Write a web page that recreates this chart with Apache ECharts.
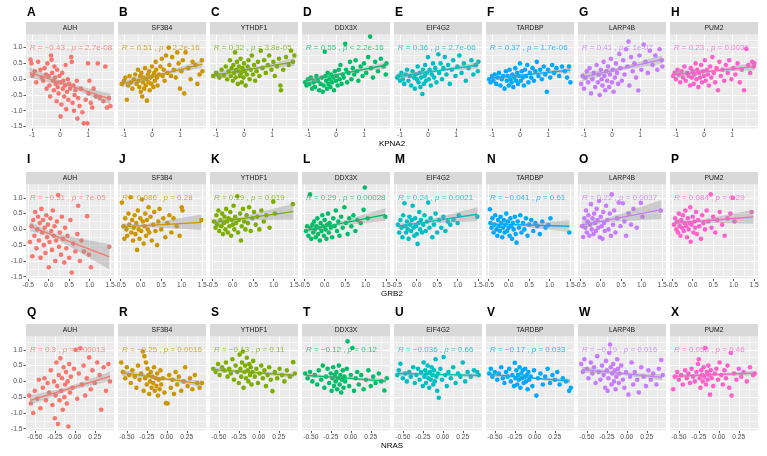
<!DOCTYPE html>
<html>
<head>
<meta charset="utf-8">
<script src="https://cdn.jsdelivr.net/npm/echarts@6/dist/echarts.min.js"></script>
<style>
html,body{margin:0;padding:0;background:#fff;}
#main{width:767px;height:456px;}
</style>
</head>
<body>
<div id="main"></div>
<script>
// ---------- labels ----------
const colGenes = ['AUH','SF3B4','YTHDF1','DDX3X','EIF4G2','TARDBP','LARP4B','PUM2'];
const rowGenes = ['KPNA2','GRB2','NRAS'];
const panelLetters = ['A','B','C','D','E','F','G','H','I','J','K','L','M','N','O','P','Q','R','S','T','U','V','W','X'];
const colColors = ['#F8766D','#CD9600','#7CAE00','#00BE67','#00BFC4','#00A9FF','#C77CFF','#FF61CC'];

// ---------- axes ----------
const xMin = [-1.214, -0.556, -0.61];
const xMax = [1.929, 1.595, 0.49];
const yMin = -1.56, yMax = 1.42;
const xMajor = [[-1,0,1],[-0.5,0,0.5,1,1.5],[-0.5,-0.25,0,0.25]];
const xMinor = [[-0.5,0.5,1.5],[-0.25,0.25,0.75,1.25],[-0.375,-0.125,0.125,0.375]];
const xDecimals = [0,1,2];
const yMajor = [-1.5,-1,-0.5,0,0.5,1];
const yMinor = [-1.25,-0.75,-0.25,0.25,0.75,1.25];

// ---------- correlation labels ----------
const rText = ['−0.43','0.51','0.32','0.55','0.36','0.37','0.41','0.23',
               '−0.31','0.086','0.19','0.29','0.24','−0.041','0.22','0.084',
               '0.3','−0.25','−0.13','−0.12','−0.036','−0.17','−0.19','0.058'];
const pOp = ['=','<','=','<','=','=','=','=',
             '=','=','=','=','=','=','=','=',
             '=','=','=','=','=','=','=','='];
const pText = ['2.7e-08','2.2e-16','3.8e-05','2.2e-16','2.7e-06','1.7e-06','1e-07','0.0031',
               '7e-05','0.28','0.019','0.00028','0.0021','0.61','0.0037','0.29',
               '0.00013','0.0016','0.11','0.12','0.66','0.033','0.016','0.46'];
const LABEL_Y = 1.0;

// ---------- fitted lines (x positions per row, y per panel) ----------
const fitX = [[-1.08,0.3,1.8],[-0.46,0.1,1.48],[-0.56,-0.1,0.44]];
const fitY = [
 [0.21,-0.19,-0.63],[-0.15,0.15,0.48],[0.12,0.33,0.55],[-0.05,0.19,0.45],
 [0.08,0.26,0.45],[0.03,0.15,0.29],[0.06,0.33,0.63],[0.14,0.26,0.40],
 [0.10,-0.18,-0.87],[0.08,0.12,0.22],[0.22,0.32,0.56],[-0.04,0.11,0.47],
 [0.10,0.21,0.48],[0.17,0.15,0.10],[0.14,0.28,0.63],[0.19,0.25,0.40],
 [-0.60,-0.25,0.16],[0.28,0.11,-0.08],[0.37,0.29,0.19],[0.19,0.11,0.01],
 [0.25,0.22,0.19],[0.22,0.12,0.01],[0.37,0.26,0.13],[0.16,0.21,0.26]
];
const bandH = [
 [0.17,0.05,0.17],[0.13,0.04,0.12],[0.12,0.04,0.12],[0.10,0.03,0.10],
 [0.10,0.03,0.10],[0.09,0.03,0.09],[0.14,0.05,0.14],[0.12,0.04,0.12],
 [0.15,0.06,0.40],[0.10,0.04,0.25],[0.10,0.04,0.25],[0.08,0.03,0.20],
 [0.09,0.035,0.22],[0.08,0.03,0.18],[0.12,0.05,0.30],[0.09,0.035,0.22],
 [0.15,0.06,0.15],[0.10,0.04,0.10],[0.08,0.03,0.08],[0.07,0.03,0.07],
 [0.07,0.03,0.07],[0.07,0.03,0.07],[0.10,0.04,0.10],[0.07,0.03,0.07]
];

// ---------- points ----------
const pA = [[-1.05,0.62],[-1.02,0.5],[-0.98,0.12],[-0.9,0.25],[-0.85,-0.1],[-0.78,0.55],[-0.7,0.3],[-0.65,0.05],[-0.6,-0.05],[-0.55,0.35],[-0.5,0.15],[-0.48,-0.3],[-0.45,0.5],[-0.4,0.1],[-0.38,-0.2],[-0.35,-0.55],[-0.32,0.75],[-0.3,0.62],[-0.28,0.2],[-0.25,-0.05],[-0.22,-0.35],[-0.2,0.4],[-0.18,0.05],[-0.15,-0.15],[-0.12,-0.7],[-0.1,0.3],[-0.08,-0.25],[-0.05,-0.45],[-0.02,0.1],[0.0,-0.1],[0.02,-1.18],[0.05,-0.8],[0.08,0.2],[0.1,-0.3],[0.12,-0.05],[0.15,-0.55],[0.18,-0.2],[0.2,0.45],[0.22,-0.95],[0.25,-0.4],[0.28,0.0],[0.3,-0.65],[0.33,-0.15],[0.36,-0.3],[0.4,0.7],[0.42,0.55],[0.45,-0.75],[0.48,-0.2],[0.5,-1.0],[0.52,-0.5],[0.55,-0.35],[0.6,-0.05],[0.62,-1.25],[0.65,-0.6],[0.7,-0.85],[0.75,-0.3],[0.8,-1.05],[0.85,-1.4],[0.92,-0.65],[0.98,-1.4],[1.0,0.5],[1.02,-0.45],[1.05,-0.05],[1.1,-0.75],[1.15,-0.9],[1.2,-0.3],[1.28,-0.55],[1.35,0.5],[1.42,-0.6],[1.55,-0.7],[1.62,0.4],[1.68,-0.9],[1.75,-0.6],[1.8,-0.85]];
const pB = [[-1.08,-0.15],[-1.0,-0.05],[-0.95,0.05],[-0.9,-0.65],[-0.85,-0.2],[-0.8,0.1],[-0.75,-0.1],[-0.7,-0.3],[-0.65,0.0],[-0.6,0.15],[-0.55,-0.15],[-0.5,0.3],[-0.48,-0.05],[-0.45,-0.25],[-0.42,0.1],[-0.4,-0.4],[-0.38,0.2],[-0.35,-0.55],[-0.32,-0.1],[-0.3,0.05],[-0.28,-0.3],[-0.25,0.35],[-0.22,-0.2],[-0.2,0.0],[-0.18,-0.68],[-0.15,0.15],[-0.12,-0.1],[-0.1,0.25],[-0.08,-0.35],[-0.05,0.05],[-0.02,-0.15],[0.0,0.4],[0.02,0.1],[0.05,-0.25],[0.08,0.2],[0.1,-0.05],[0.13,0.55],[0.15,0.3],[0.18,0.05],[0.2,-0.2],[0.25,0.15],[0.3,0.4],[0.35,0.65],[0.38,0.1],[0.42,0.3],[0.45,-0.05],[0.5,0.75],[0.55,0.2],[0.6,1.0],[0.62,0.45],[0.68,0.1],[0.72,0.7],[0.78,0.3],[0.85,0.05],[0.9,0.85],[0.95,0.5],[1.0,-0.3],[1.05,0.25],[1.1,0.6],[1.15,-0.45],[1.2,0.85],[1.3,0.35],[1.38,0.0],[1.45,0.55],[1.55,0.45],[1.62,-0.15],[1.7,0.15],[1.78,0.6],[1.8,0.25]];
const pC = [[-1.1,0.1],[-1.0,0.2],[-0.95,0.15],[-0.88,0.05],[-0.8,0.3],[-0.72,0.12],[-0.65,0.4],[-0.6,0.0],[-0.55,0.25],[-0.5,0.6],[-0.47,0.1],[-0.44,0.35],[-0.4,-0.05],[-0.38,0.45],[-0.35,0.2],[-0.32,0.85],[-0.3,0.05],[-0.28,0.3],[-0.25,0.55],[-0.22,-0.15],[-0.2,0.25],[-0.18,0.4],[-0.15,0.1],[-0.12,0.65],[-0.1,0.2],[-0.08,-0.1],[-0.05,0.35],[-0.02,0.05],[0.0,0.5],[0.03,0.25],[0.06,-0.2],[0.1,0.15],[0.13,0.4],[0.16,0.6],[0.2,0.0],[0.24,0.3],[0.28,0.75],[0.32,0.15],[0.36,0.45],[0.4,-0.05],[0.45,0.25],[0.5,0.55],[0.55,0.1],[0.6,0.9],[0.66,0.35],[0.72,0.6],[0.78,0.2],[0.85,0.45],[0.9,0.75],[0.98,0.3],[1.05,0.55],[1.1,0.1],[1.18,0.4],[1.25,0.65],[1.3,-0.2],[1.32,-0.35],[1.4,0.3],[1.5,0.7],[1.6,0.45],[1.68,0.9],[1.75,0.55],[1.8,0.75]];
const pD = [[-1.1,-0.1],[-1.05,-0.2],[-1.0,0.0],[-0.95,-0.15],[-0.9,0.05],[-0.85,-0.3],[-0.8,-0.1],[-0.75,-0.25],[-0.7,0.1],[-0.65,-0.05],[-0.6,-0.35],[-0.55,-0.15],[-0.5,0.05],[-0.47,-0.4],[-0.44,-0.2],[-0.4,0.87],[-0.38,0.1],[-0.35,-0.05],[-0.32,-0.3],[-0.3,0.2],[-0.27,-0.15],[-0.24,0.0],[-0.2,-0.25],[-0.17,0.15],[-0.14,-0.1],[-0.1,0.05],[-0.07,-0.35],[-0.04,0.25],[0.0,-0.05],[0.03,0.1],[0.06,-0.2],[0.1,0.3],[0.13,0.0],[0.16,0.45],[0.2,-0.15],[0.24,0.15],[0.28,0.05],[0.33,1.12],[0.36,0.3],[0.4,-0.1],[0.45,0.2],[0.5,0.55],[0.55,0.0],[0.6,0.35],[0.65,0.15],[0.7,0.6],[0.75,0.25],[0.8,-0.05],[0.88,0.4],[0.95,0.1],[1.0,0.5],[1.08,0.2],[1.15,0.7],[1.22,1.35],[1.25,0.35],[1.32,0.05],[1.4,0.55],[1.5,0.25],[1.6,0.65],[1.7,0.4],[1.78,0.15],[1.8,0.5]];
const pE = [[-1.1,0.05],[-1.05,0.1],[-1.0,-0.05],[-0.95,0.2],[-0.9,0.0],[-0.85,-0.15],[-0.8,0.15],[-0.75,0.3],[-0.7,-0.05],[-0.65,0.1],[-0.6,-0.2],[-0.55,0.25],[-0.5,0.05],[-0.47,-0.3],[-0.44,0.15],[-0.4,0.0],[-0.37,0.4],[-0.34,-0.1],[-0.3,0.2],[-0.27,-0.25],[-0.24,0.05],[-0.2,-0.47],[-0.18,0.3],[-0.15,-0.15],[-0.12,0.1],[-0.1,0.45],[-0.07,-0.05],[-0.04,0.2],[0.0,0.7],[0.03,0.0],[0.06,0.3],[0.1,-0.2],[0.14,0.15],[0.18,0.5],[0.22,0.05],[0.26,0.35],[0.3,-0.1],[0.37,0.79],[0.4,0.2],[0.45,0.5],[0.5,0.0],[0.55,0.35],[0.6,0.7],[0.66,0.15],[0.72,0.45],[0.78,-0.15],[0.85,0.3],[0.9,0.6],[0.98,0.1],[1.05,0.4],[1.12,0.75],[1.2,0.2],[1.28,0.5],[1.35,-0.05],[1.45,0.35],[1.55,0.6],[1.62,0.15],[1.7,0.45],[1.78,0.25],[1.8,0.55]];
const pF = [[-1.1,0.0],[-1.05,-0.1],[-1.0,0.1],[-0.95,-0.05],[-0.9,0.15],[-0.85,-0.15],[-0.8,0.05],[-0.75,0.2],[-0.7,-0.2],[-0.65,0.0],[-0.6,0.1],[-0.55,-0.3],[-0.5,0.25],[-0.47,-0.05],[-0.44,0.1],[-0.4,-0.2],[-0.37,0.3],[-0.34,0.0],[-0.3,-0.1],[-0.27,0.15],[-0.24,-0.25],[-0.2,0.05],[-0.17,0.35],[-0.14,-0.05],[-0.1,0.2],[-0.07,-0.15],[-0.04,0.1],[0.0,0.5],[0.03,-0.05],[0.06,0.25],[0.1,0.05],[0.14,-0.2],[0.18,0.3],[0.22,0.1],[0.26,0.45],[0.3,-0.1],[0.35,0.2],[0.4,0.05],[0.45,0.35],[0.5,-0.05],[0.55,0.25],[0.6,0.55],[0.66,0.1],[0.72,0.3],[0.78,0.0],[0.85,0.4],[0.9,0.15],[0.96,-0.4],[1.0,0.3],[1.08,0.05],[1.15,0.45],[1.22,0.2],[1.3,0.35],[1.4,0.1],[1.5,0.4],[1.6,0.25],[1.68,0.05],[1.75,0.4],[1.8,-0.1]];
const pG = [[-1.1,-0.15],[-1.05,0.1],[-1.0,-0.3],[-0.95,0.05],[-0.9,0.25],[-0.85,-0.1],[-0.8,0.35],[-0.75,-0.45],[-0.7,0.0],[-0.65,0.2],[-0.6,-0.25],[-0.55,0.45],[-0.5,-0.1],[-0.47,0.15],[-0.44,-0.5],[-0.4,0.3],[-0.37,0.0],[-0.34,-0.2],[-0.3,0.55],[-0.27,0.1],[-0.24,-0.35],[-0.2,0.25],[-0.17,-0.05],[-0.14,0.4],[-0.1,-0.25],[-0.07,0.15],[-0.04,0.65],[0.0,-0.1],[0.03,0.3],[0.06,-0.4],[0.1,0.05],[0.14,0.5],[0.18,0.2],[0.22,-0.15],[0.26,0.8],[0.3,0.35],[0.35,-0.05],[0.4,0.6],[0.45,0.15],[0.5,0.95],[0.55,0.4],[0.59,1.19],[0.62,-0.2],[0.68,0.7],[0.74,0.25],[0.8,0.5],[0.86,0.05],[0.94,-0.36],[0.98,0.75],[1.05,0.3],[1.13,1.1],[1.2,0.55],[1.28,0.2],[1.35,0.9],[1.45,0.45],[1.55,0.75],[1.62,0.3],[1.7,0.95],[1.78,0.6],[1.8,0.4]];
const pH = [[-1.1,0.1],[-1.05,0.2],[-1.0,0.0],[-0.95,0.3],[-0.9,0.15],[-0.85,-0.1],[-0.8,0.25],[-0.75,0.05],[-0.7,0.4],[-0.65,-0.05],[-0.6,0.2],[-0.55,0.1],[-0.5,-0.2],[-0.47,0.35],[-0.44,0.05],[-0.4,0.25],[-0.37,-0.15],[-0.34,0.15],[-0.3,0.5],[-0.27,0.0],[-0.24,0.3],[-0.2,-0.25],[-0.17,0.2],[-0.14,0.05],[-0.1,0.45],[-0.07,-0.1],[-0.04,0.25],[0.0,0.1],[0.03,0.6],[0.06,-0.05],[0.1,0.3],[0.14,0.15],[0.18,-0.2],[0.22,0.4],[0.26,0.05],[0.3,0.7],[0.35,0.2],[0.4,-0.1],[0.45,0.35],[0.5,-0.35],[0.55,0.55],[0.6,0.1],[0.66,0.3],[0.72,-0.05],[0.78,0.45],[0.85,0.2],[0.9,0.6],[0.98,0.0],[1.05,0.35],[1.12,0.15],[1.2,0.5],[1.28,-0.1],[1.35,0.3],[1.43,-0.35],[1.51,0.96],[1.58,0.45],[1.65,0.2],[1.72,0.55],[1.78,0.4],[1.8,0.5]];
const pI = [[-0.46,-0.4],[-0.42,0.1],[-0.4,-0.85],[-0.38,0.3],[-0.35,-0.2],[-0.33,0.55],[-0.3,-0.6],[-0.28,0.0],[-0.26,0.4],[-0.24,-0.35],[-0.22,0.2],[-0.2,-0.9],[-0.18,0.65],[-0.16,-0.1],[-0.14,0.3],[-0.12,-0.5],[-0.1,0.05],[-0.08,-0.75],[-0.06,0.45],[-0.04,-0.25],[-0.02,0.15],[0.0,-1.2],[0.02,-0.4],[0.04,0.35],[0.06,-0.05],[0.08,-0.65],[0.1,0.6],[0.12,-0.2],[0.14,0.1],[0.16,-1.0],[0.18,-0.35],[0.2,0.25],[0.23,1.09],[0.25,-0.55],[0.27,-0.1],[0.3,-0.8],[0.32,0.4],[0.35,-0.3],[0.38,-1.05],[0.4,0.05],[0.43,-0.6],[0.46,-0.2],[0.5,-0.9],[0.53,0.3],[0.56,-1.37],[0.6,-0.45],[0.65,-0.7],[0.7,-0.15],[0.72,0.75],[0.76,-1.0],[0.8,-0.35],[0.86,-0.7],[0.94,0.42],[0.98,-0.8],[1.03,-1.2],[1.48,-0.55]];
const pJ = [[-0.46,0.85],[-0.42,0.1],[-0.4,-0.3],[-0.38,0.35],[-0.35,0.0],[-0.33,-0.2],[-0.3,0.5],[-0.28,0.15],[-0.25,1.02],[-0.23,-0.1],[-0.21,0.3],[-0.19,-0.35],[-0.17,0.05],[-0.15,0.45],[-0.13,-0.15],[-0.11,0.2],[-0.09,-0.65],[-0.07,0.6],[-0.05,0.0],[-0.03,-0.3],[-0.01,0.35],[0.01,-0.05],[0.03,0.95],[0.05,0.25],[0.07,-0.45],[0.09,0.1],[0.11,0.5],[0.13,-0.2],[0.15,0.3],[0.17,0.0],[0.19,0.7],[0.21,-0.1],[0.24,0.4],[0.27,-0.35],[0.3,0.15],[0.33,0.55],[0.36,-0.05],[0.4,-0.5],[0.43,0.25],[0.46,0.65],[0.5,0.0],[0.55,0.35],[0.6,-0.25],[0.65,0.2],[0.7,0.45],[0.75,-0.1],[0.8,0.35],[0.88,0.1],[0.95,-0.2],[1.0,0.7],[1.02,0.6],[1.48,0.3]];
const pK = [[-0.46,0.25],[-0.42,0.05],[-0.4,0.45],[-0.38,0.15],[-0.35,0.6],[-0.33,-0.05],[-0.3,0.3],[-0.28,0.1],[-0.26,0.5],[-0.24,-0.15],[-0.22,0.2],[-0.2,0.4],[-0.18,0.0],[-0.16,0.65],[-0.14,0.25],[-0.12,-0.1],[-0.1,0.35],[-0.08,0.1],[-0.06,0.55],[-0.04,-0.2],[-0.02,0.3],[0.0,0.15],[0.02,0.75],[0.04,0.0],[0.06,0.4],[0.08,0.2],[0.11,1.05],[0.13,-0.1],[0.15,0.3],[0.18,0.5],[0.2,-0.35],[0.22,0.1],[0.25,0.65],[0.28,0.25],[0.31,0.0],[0.34,0.45],[0.37,0.2],[0.4,0.7],[0.44,-0.05],[0.48,0.35],[0.52,0.55],[0.56,0.15],[0.6,0.4],[0.65,0.0],[0.7,0.6],[0.76,0.25],[0.82,0.45],[0.9,0.05],[0.99,0.88],[1.03,0.5],[1.47,0.8]];
const pL = [[-0.46,-0.05],[-0.43,0.1],[-0.4,-0.2],[-0.36,1.11],[-0.35,0.05],[-0.33,-0.3],[-0.3,0.15],[-0.28,-0.1],[-0.26,0.25],[-0.24,0.0],[-0.22,-0.25],[-0.2,0.1],[-0.18,0.35],[-0.16,-0.15],[-0.14,0.05],[-0.12,-0.35],[-0.1,0.2],[-0.08,-0.05],[-0.06,0.45],[-0.04,0.1],[-0.02,-0.2],[0.0,0.3],[0.02,0.0],[0.04,-0.3],[0.06,0.15],[0.08,0.5],[0.1,-0.1],[0.12,0.2],[0.15,0.05],[0.18,-0.25],[0.21,0.35],[0.24,0.1],[0.27,0.6],[0.3,-0.05],[0.33,0.25],[0.36,-0.2],[0.4,0.4],[0.44,0.05],[0.48,0.7],[0.52,0.2],[0.56,-0.15],[0.6,0.35],[0.65,0.1],[0.7,0.45],[0.75,-0.05],[0.8,0.3],[0.88,0.2],[0.95,0.62],[0.98,1.33],[1.05,0.35],[1.48,0.4]];
const pM = [[-0.46,0.15],[-0.43,-0.1],[-0.4,0.3],[-0.37,0.05],[-0.35,-0.25],[-0.33,0.45],[-0.3,0.83],[-0.28,0.1],[-0.26,-0.1],[-0.24,0.25],[-0.22,0.0],[-0.2,-0.3],[-0.18,0.4],[-0.16,0.15],[-0.14,-0.05],[-0.12,0.3],[-0.1,0.75],[-0.08,0.05],[-0.06,-0.2],[-0.04,0.35],[-0.02,0.1],[0.0,-0.15],[0.02,-0.46],[0.04,0.2],[0.06,0.55],[0.08,0.0],[0.1,0.3],[0.13,-0.1],[0.16,0.15],[0.19,0.45],[0.22,-0.05],[0.25,0.25],[0.28,0.85],[0.31,0.05],[0.34,0.35],[0.38,-0.25],[0.42,0.15],[0.46,0.5],[0.5,-0.1],[0.55,0.3],[0.6,0.05],[0.65,0.4],[0.7,-0.05],[0.76,0.25],[0.82,0.15],[0.9,0.3],[1.0,0.2],[1.03,0.45],[1.48,0.4]];
const pN = [[-0.46,0.64],[-0.45,0.2],[-0.42,0.05],[-0.4,0.35],[-0.37,-0.1],[-0.35,0.15],[-0.33,0.45],[-0.3,0.0],[-0.28,-0.2],[-0.26,0.3],[-0.24,0.1],[-0.22,-0.05],[-0.2,0.4],[-0.18,0.2],[-0.16,-0.25],[-0.14,0.05],[-0.12,0.3],[-0.1,-0.1],[-0.08,0.15],[-0.06,0.5],[-0.04,-0.05],[-0.02,0.25],[0.0,0.05],[0.02,-0.2],[0.04,0.35],[0.06,0.1],[0.08,-0.3],[0.1,0.2],[0.12,0.0],[0.15,0.4],[0.17,-0.15],[0.19,-0.42],[0.22,0.25],[0.25,0.05],[0.28,0.45],[0.31,-0.1],[0.35,0.2],[0.38,0.0],[0.42,0.35],[0.46,-0.2],[0.5,0.15],[0.55,0.3],[0.6,-0.05],[0.65,0.2],[0.7,0.1],[0.76,-0.15],[0.82,0.25],[0.9,0.05],[0.97,0.14],[1.02,0.35],[1.48,-0.1]];
const pO = [[-0.46,0.1],[-0.43,-0.24],[-0.4,0.35],[-0.38,0.05],[-0.36,0.6],[-0.34,-0.1],[-0.32,0.25],[-0.3,0.45],[-0.28,-0.2],[-0.26,0.15],[-0.24,0.8],[-0.22,0.0],[-0.2,0.35],[-0.18,-0.15],[-0.16,0.5],[-0.14,0.2],[-0.12,-0.05],[-0.1,0.65],[-0.08,0.3],[-0.06,0.05],[-0.04,0.9],[-0.02,-0.25],[0.0,0.4],[0.02,0.1],[0.04,-0.3],[0.06,0.55],[0.08,0.2],[0.1,-0.05],[0.13,0.75],[0.16,0.3],[0.19,0.0],[0.22,0.5],[0.25,-0.2],[0.27,1.11],[0.3,0.15],[0.33,0.6],[0.36,-0.1],[0.4,0.35],[0.44,0.85],[0.48,0.1],[0.54,0.83],[0.58,0.25],[0.62,-0.2],[0.68,0.5],[0.74,0.15],[0.8,0.65],[0.88,0.05],[0.98,0.84],[1.02,0.4],[1.47,0.6]];
const pP = [[-0.46,0.15],[-0.43,0.35],[-0.4,0.0],[-0.38,0.25],[-0.36,-0.1],[-0.34,0.5],[-0.32,0.1],[-0.3,-0.2],[-0.28,0.3],[-0.26,0.05],[-0.24,0.45],[-0.22,-0.05],[-0.2,0.2],[-0.18,0.6],[-0.16,0.1],[-0.14,-0.25],[-0.12,0.35],[-0.1,0.0],[-0.08,0.2],[-0.06,0.7],[-0.05,-0.39],[-0.03,0.15],[0.0,0.4],[0.02,-0.1],[0.04,0.25],[0.06,0.05],[0.08,0.55],[0.1,-0.15],[0.13,0.3],[0.16,0.1],[0.2,-0.3],[0.23,0.45],[0.26,0.2],[0.3,0.0],[0.34,0.6],[0.38,0.25],[0.44,1.11],[0.46,0.05],[0.5,0.4],[0.55,-0.1],[0.6,0.3],[0.66,0.55],[0.72,0.15],[0.78,-0.2],[0.85,0.35],[0.92,0.5],[0.98,1.0],[1.02,0.25],[1.44,0.55]];
const pQ = [[-0.57,-0.45],[-0.55,-0.7],[-0.52,-1.0],[-0.5,-0.3],[-0.47,-0.55],[-0.45,0.05],[-0.43,-0.85],[-0.4,-0.2],[-0.38,0.1],[-0.36,-0.6],[-0.34,-0.05],[-0.32,-0.35],[-0.3,0.35],[-0.28,-0.75],[-0.26,0.0],[-0.25,-1.17],[-0.24,-0.45],[-0.23,0.6],[-0.22,-0.15],[-0.21,-1.35],[-0.2,0.2],[-0.19,-0.6],[-0.18,0.73],[-0.17,-0.3],[-0.16,0.1],[-0.15,-0.9],[-0.14,0.45],[-0.13,-0.5],[-0.12,-0.1],[-0.11,0.3],[-0.1,-0.7],[-0.09,0.0],[-0.08,-1.43],[-0.07,0.55],[-0.06,-0.35],[-0.05,0.15],[-0.03,-0.2],[-0.01,0.4],[0.01,1.0],[0.03,-0.55],[0.05,0.25],[0.07,1.05],[0.09,-0.1],[0.11,0.5],[0.13,-0.45],[0.15,0.1],[0.18,0.76],[0.2,-0.25],[0.22,0.35],[0.25,-0.05],[0.28,0.6],[0.31,0.2],[0.33,-0.9],[0.36,0.45],[0.39,-0.3],[0.42,0.55],[0.44,0.0]];
const pR = [[-0.57,0.6],[-0.55,0.3],[-0.52,0.1],[-0.5,0.45],[-0.47,0.2],[-0.45,-0.05],[-0.43,0.35],[-0.4,0.15],[-0.38,-0.2],[-0.36,0.5],[-0.34,0.05],[-0.32,0.25],[-0.3,0.95],[-0.29,-0.3],[-0.28,0.8],[-0.27,0.1],[-0.26,0.6],[-0.25,-0.1],[-0.24,0.4],[-0.23,0.2],[-0.22,-0.4],[-0.21,0.0],[-0.2,0.3],[-0.19,-0.2],[-0.18,0.15],[-0.17,-0.05],[-0.16,0.45],[-0.15,-0.3],[-0.14,0.1],[-0.13,-0.15],[-0.12,0.25],[-0.11,-0.45],[-0.1,0.05],[-0.09,-0.25],[-0.08,0.35],[-0.07,-0.1],[-0.05,0.1],[-0.03,-0.35],[-0.01,-0.69],[0.01,-0.7],[0.03,0.2],[0.05,-0.2],[0.07,0.05],[0.09,-0.4],[0.11,0.3],[0.13,-0.1],[0.15,0.15],[0.18,-0.3],[0.21,0.0],[0.23,0.45],[0.26,-0.15],[0.29,0.1],[0.32,-0.25],[0.35,0.2],[0.38,-0.05],[0.41,-0.2],[0.44,-0.05]];
const pS = [[-0.57,0.4],[-0.54,0.3],[-0.51,0.55],[-0.49,0.2],[-0.46,0.45],[-0.43,0.35],[-0.41,0.6],[-0.39,0.15],[-0.37,0.4],[-0.35,0.25],[-0.33,0.7],[-0.31,0.05],[-0.29,0.5],[-0.27,0.3],[-0.25,-0.05],[-0.24,0.85],[-0.23,0.4],[-0.22,0.15],[-0.21,0.6],[-0.2,0.95],[-0.19,-0.2],[-0.18,0.3],[-0.17,0.5],[-0.16,0.1],[-0.15,0.75],[-0.14,0.35],[-0.13,0.0],[-0.12,0.55],[-0.11,0.2],[-0.1,0.45],[-0.09,-0.1],[-0.08,0.3],[-0.07,0.65],[-0.05,0.15],[-0.03,0.4],[-0.01,-0.05],[0.01,0.25],[0.03,0.5],[0.05,0.1],[0.07,0.35],[0.09,-0.15],[0.11,0.2],[0.13,0.45],[0.15,0.05],[0.17,-0.31],[0.2,0.3],[0.23,0.1],[0.26,0.4],[0.29,0.2],[0.32,0.0],[0.35,0.35],[0.39,0.15],[0.43,0.61],[0.45,0.25]];
const pT = [[-0.57,0.25],[-0.54,0.1],[-0.51,0.3],[-0.48,0.0],[-0.45,0.2],[-0.42,-0.1],[-0.4,0.35],[-0.37,0.05],[-0.35,0.5],[-0.33,-0.2],[-0.31,0.15],[-0.29,0.4],[-0.27,-0.05],[-0.25,0.25],[-0.24,-0.3],[-0.23,0.1],[-0.22,0.45],[-0.21,-0.15],[-0.2,0.2],[-0.19,0.0],[-0.18,0.3],[-0.17,-0.25],[-0.16,0.1],[-0.15,0.5],[-0.14,-0.1],[-0.13,0.2],[-0.12,-0.35],[-0.11,0.05],[-0.1,0.35],[-0.09,-0.2],[-0.08,0.15],[-0.07,0.0],[-0.05,0.4],[-0.04,1.27],[-0.02,-0.15],[0.0,0.2],[0.02,1.06],[0.04,-0.3],[0.06,0.1],[0.08,0.3],[0.1,-0.1],[0.13,0.2],[0.16,-0.25],[0.19,0.05],[0.22,0.35],[0.25,-0.15],[0.28,0.15],[0.31,-0.05],[0.35,0.25],[0.38,0.0],[0.42,-0.29],[0.45,0.1]];
const pU = [[-0.57,0.2],[-0.55,0.35],[-0.53,0.56],[-0.5,0.1],[-0.47,0.25],[-0.45,0.0],[-0.42,0.3],[-0.4,0.15],[-0.37,0.45],[-0.35,-0.05],[-0.33,0.2],[-0.31,0.4],[-0.29,0.05],[-0.27,0.3],[-0.25,-0.15],[-0.24,0.6],[-0.23,0.15],[-0.22,0.35],[-0.21,-0.05],[-0.2,0.25],[-0.19,0.5],[-0.18,0.1],[-0.17,-0.2],[-0.16,0.3],[-0.15,0.05],[-0.14,0.45],[-0.13,0.2],[-0.12,-0.1],[-0.11,0.35],[-0.1,0.0],[-0.09,0.7],[-0.08,0.15],[-0.07,-0.3],[-0.06,0.25],[-0.05,-0.52],[-0.03,0.4],[-0.01,0.05],[0.01,0.77],[0.03,0.2],[0.05,-0.15],[0.07,0.3],[0.1,0.1],[0.13,0.45],[0.16,-0.05],[0.19,0.25],[0.22,0.15],[0.25,0.6],[0.28,0.0],[0.31,0.3],[0.35,0.15],[0.39,0.35],[0.43,0.3],[0.45,0.2]];
const pV = [[-0.57,0.25],[-0.55,0.4],[-0.53,0.15],[-0.5,0.3],[-0.47,0.05],[-0.45,0.25],[-0.42,0.45],[-0.4,0.1],[-0.38,-0.05],[-0.36,0.3],[-0.34,0.15],[-0.32,0.4],[-0.3,0.0],[-0.28,0.2],[-0.26,-0.15],[-0.25,0.59],[-0.24,0.1],[-0.23,0.35],[-0.22,-0.1],[-0.21,0.2],[-0.2,0.05],[-0.19,0.45],[-0.18,-0.2],[-0.17,0.25],[-0.16,0.1],[-0.15,0.35],[-0.14,-0.05],[-0.13,0.15],[-0.12,0.4],[-0.11,0.0],[-0.1,0.2],[-0.09,-0.25],[-0.08,0.3],[-0.07,0.05],[-0.05,0.15],[-0.03,-0.15],[-0.01,0.35],[0.02,-0.45],[0.04,0.1],[0.07,0.25],[0.1,-0.1],[0.13,0.15],[0.16,0.4],[0.19,-0.05],[0.22,0.2],[0.25,0.05],[0.28,0.3],[0.31,-0.1],[0.35,0.1],[0.39,0.0],[0.43,-0.3],[0.45,-0.2]];
const pW = [[-0.57,0.55],[-0.55,0.3],[-0.53,0.7],[-0.5,0.4],[-0.48,0.1],[-0.45,0.6],[-0.43,0.25],[-0.41,0.45],[-0.39,-0.05],[-0.37,0.8],[-0.35,0.3],[-0.33,0.05],[-0.31,0.5],[-0.29,0.2],[-0.27,-0.2],[-0.26,0.65],[-0.25,0.35],[-0.24,-0.3],[-0.23,0.1],[-0.22,0.9],[-0.21,1.17],[-0.2,0.45],[-0.19,-0.1],[-0.18,0.25],[-0.17,0.55],[-0.16,0.0],[-0.15,0.35],[-0.14,-0.25],[-0.13,0.15],[-0.12,0.7],[-0.11,0.4],[-0.1,-0.05],[-0.09,0.25],[-0.07,0.5],[-0.05,0.05],[-0.03,-0.2],[-0.01,0.3],[0.02,-0.42],[0.04,0.15],[0.06,0.6],[0.08,-0.1],[0.1,0.3],[0.13,0.05],[0.15,-0.35],[0.18,0.45],[0.21,0.15],[0.24,-0.15],[0.27,0.35],[0.3,0.05],[0.33,0.25],[0.37,-0.1],[0.4,0.4],[0.43,0.68],[0.45,0.2]];
const pX = [[-0.57,-0.25],[-0.55,0.15],[-0.52,0.3],[-0.5,0.05],[-0.47,0.2],[-0.45,-0.1],[-0.42,0.35],[-0.4,0.1],[-0.38,0.25],[-0.36,-0.05],[-0.34,0.4],[-0.32,0.15],[-0.3,0.0],[-0.28,0.3],[-0.26,0.55],[-0.25,0.7],[-0.24,0.1],[-0.23,-0.2],[-0.22,0.35],[-0.21,0.2],[-0.2,0.0],[-0.19,0.45],[-0.18,0.15],[-0.17,1.06],[-0.16,-0.1],[-0.15,0.3],[-0.14,0.05],[-0.13,0.5],[-0.12,0.2],[-0.11,-0.42],[-0.1,0.35],[-0.09,0.1],[-0.07,-0.15],[-0.05,0.25],[-0.03,0.4],[-0.01,0.05],[0.01,0.6],[0.03,0.2],[0.05,-0.1],[0.07,0.35],[0.09,0.1],[0.11,0.5],[0.13,-0.2],[0.15,0.9],[0.16,-0.45],[0.19,0.25],[0.22,0.05],[0.25,0.4],[0.28,0.15],[0.31,0.3],[0.35,0.0],[0.39,0.45],[0.43,0.2],[0.45,0.25]];
const panelPoints = [pA,pB,pC,pD,pE,pF,pG,pH,pI,pJ,pK,pL,pM,pN,pO,pP,pQ,pR,pS,pT,pU,pV,pW,pX];

// ---------- layout ----------
const FONT = '"Liberation Sans", Arial, Helvetica, sans-serif';
const PANEL_LEFT0 = 26, PANEL_STEP = 92, PANEL_W = 88, PANEL_H = 94;
const rowTop = [34.4, 184.6, 336.6];
const letterY = [12.5, 160, 313];
const STRIP_H = 12.5;

const chart = echarts.init(document.getElementById('main'));
const grids = [], xAxes = [], yAxes = [], series = [], graphics = [];

for (let r = 0; r < 3; r++) {
  for (let c = 0; c < 8; c++) {
    const idx = r * 8 + c;
    const L = PANEL_LEFT0 + PANEL_STEP * c;
    const T = rowTop[r];
    const col = colColors[c];
    grids.push({left: L, top: T, width: PANEL_W, height: PANEL_H, show: true,
      backgroundColor: '#EBEBEB', borderWidth: 0, containLabel: false});
    xAxes.push({gridIndex: idx, type: 'value', min: xMin[r], max: xMax[r],
      axisLine: {show: false, onZero: false}, splitLine: {show: false},
      axisTick: {show: true, length: 2.5, customValues: xMajor[r], lineStyle: {color: '#333333', width: 0.8}},
      axisLabel: {show: true, customValues: xMajor[r], margin: 3, fontSize: 6.7, color: '#4D4D4D', fontFamily: FONT,
        formatter: v => Number(v).toFixed(xDecimals[r])}});
    yAxes.push({gridIndex: idx, type: 'value', min: yMin, max: yMax,
      axisLine: {show: false, onZero: false}, splitLine: {show: false},
      axisTick: {show: c === 0, length: 2.5, customValues: yMajor, lineStyle: {color: '#333333', width: 0.8}},
      axisLabel: {show: c === 0, customValues: yMajor, margin: 3.5, fontSize: 6.7, color: '#4D4D4D', fontFamily: FONT,
        formatter: v => Number(v).toFixed(1)}});

    const pts = panelPoints[idx];
    const gl = [];
    xMinor[r].forEach(v => gl.push({xAxis: v, lineStyle: {width: 0.5}}));
    yMinor.forEach(v => gl.push({yAxis: v, lineStyle: {width: 0.5}}));
    xMajor[r].forEach(v => gl.push({xAxis: v, lineStyle: {width: 1}}));
    yMajor.forEach(v => gl.push({yAxis: v, lineStyle: {width: 1}}));
    // grid lines (kept underneath everything)
    series.push({type: 'scatter', xAxisIndex: idx, yAxisIndex: idx, data: pts, symbolSize: 0, silent: true, z: 1,
      markLine: {z: 1, zlevel: 0, silent: true, symbol: ['none','none'], label: {show: false}, animation: false,
        lineStyle: {color: '#FFFFFF', type: 'solid', width: 1}, emphasis: {disabled: true}, data: gl}});
    // points
    series.push({type: 'scatter', xAxisIndex: idx, yAxisIndex: idx, data: pts, symbolSize: 4.6, z: 6,
      itemStyle: {color: col, opacity: 1}, silent: true});
    // confidence band
    const fx = fitX[r], fy = fitY[idx], bh = bandH[idx];
    series.push({type: 'custom', xAxisIndex: idx, yAxisIndex: idx, z: 7, silent: true, clip: true,
      data: [[fx[0], fy[0]]],
      renderItem: (params, api) => {
        const poly = [];
        for (let i = 0; i < fx.length; i++) poly.push(api.coord([fx[i], fy[i] - bh[i]]));
        for (let i = fx.length - 1; i >= 0; i--) poly.push(api.coord([fx[i], fy[i] + bh[i]]));
        return {type: 'polygon', shape: {points: poly}, style: {fill: 'rgba(153,153,153,0.4)'}};
      }});
    // regression line
    series.push({type: 'line', xAxisIndex: idx, yAxisIndex: idx, z: 8, silent: true,
      data: fx.map((x, i) => [x, fy[i]]), showSymbol: false, symbol: 'none',
      lineStyle: {color: col, width: 1.3}});
    // correlation label
    series.push({type: 'scatter', xAxisIndex: idx, yAxisIndex: idx, z: 9, silent: true,
      data: [[fx[0], LABEL_Y]], symbolSize: 0,
      label: {show: true, position: 'right', distance: 0, fontSize: 8, color: col, fontFamily: FONT,
        formatter: '{i|R} = ' + rText[idx] + ' , {i|p} ' + pOp[idx] + ' ' + pText[idx],
        rich: {i: {fontStyle: 'italic', fontSize: 8, color: col, fontFamily: FONT}}}});

    // strip
    graphics.push({type: 'rect', shape: {x: L, y: T - STRIP_H, width: PANEL_W, height: STRIP_H},
      style: {fill: '#D9D9D9'}, silent: true});
    graphics.push({type: 'text', x: L + PANEL_W / 2, y: T - STRIP_H / 2, silent: true,
      style: {text: colGenes[c], fontSize: 6.8, fontFamily: FONT, fill: '#1A1A1A',
        align: 'center', verticalAlign: 'middle', textAlign: 'center', textVerticalAlign: 'middle'}});
    // panel letter
    graphics.push({type: 'text', x: L + 1, y: letterY[r], silent: true,
      style: {text: panelLetters[idx], fontSize: 12, fontWeight: 'bold', fontFamily: FONT, fill: '#000000',
        align: 'left', verticalAlign: 'middle', textAlign: 'left', textVerticalAlign: 'middle'}});
  }
  // row axis title
  graphics.push({type: 'text', x: PANEL_LEFT0 + (PANEL_STEP * 7 + PANEL_W) / 2, y: rowTop[r] + PANEL_H + 15.5, silent: true,
    style: {text: rowGenes[r], fontSize: 8, fontFamily: FONT, fill: '#000000',
      align: 'center', verticalAlign: 'middle', textAlign: 'center', textVerticalAlign: 'middle'}});
}

chart.setOption({
  animation: false,
  backgroundColor: '#FFFFFF',
  grid: grids, xAxis: xAxes, yAxis: yAxes, series: series, graphic: graphics
});
</script>
</body>
</html>
